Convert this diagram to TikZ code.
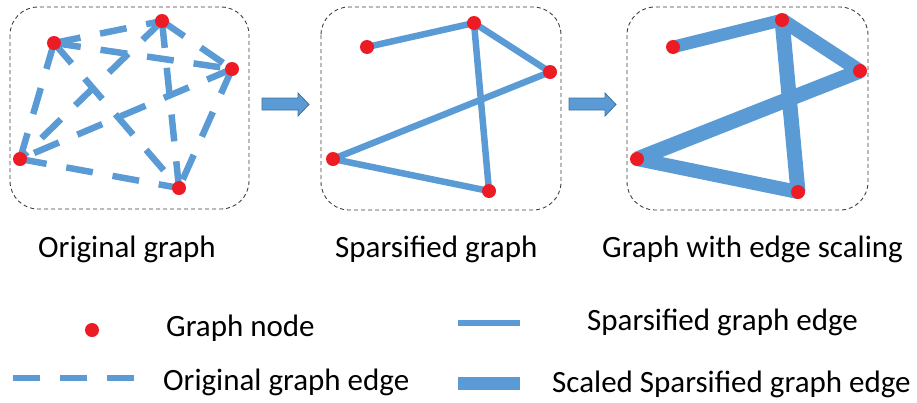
\documentclass[tikz,border=0pt]{standalone}
\usepackage{fontspec}
\setmainfont{Carlito}
\usetikzlibrary{backgrounds}

\definecolor{edgeblue}{HTML}{5B9BD5}
\definecolor{arrowline}{HTML}{41719C}
\definecolor{nodered}{HTML}{ED1C24}
\definecolor{framegray}{HTML}{3F3F3F}

\tikzset{
  gnode/.style={circle, fill=nodered, inner sep=0pt, minimum size=14pt},
  origedge/.style={draw=edgeblue, line width=6.5pt, dash pattern=on 27pt off 20pt},
  sparseedge/.style={draw=edgeblue, line width=6.5pt},
  scaledge/.style={draw=edgeblue, line width=14pt},
  panelframe/.style={draw=framegray, line width=0.9pt, dash pattern=on 4pt off 3pt, rounded corners=28pt},
  blockarrow/.style={fill=edgeblue, draw=arrowline, line width=0.8pt},
  caption/.style={font=\fontsize{31}{37}\selectfont, anchor=base west, inner sep=0pt},
}

\begin{document}
\begin{tikzpicture}[x=1pt, y=-1pt]
  \useasboundingbox (0,0) rectangle (917,402);

  % panel frames
  \draw[panelframe] (10,7) rectangle (249,209);
  \draw[panelframe] (321,7) rectangle (561,210);
  \draw[panelframe] (627,7) rectangle (868,210);

  % graph nodes: original graph
  \node[gnode] (a1) at (54,43) {};
  \node[gnode] (a2) at (162,21) {};
  \node[gnode] (a3) at (232,69) {};
  \node[gnode] (a4) at (20,159) {};
  \node[gnode] (a5) at (179,188) {};

  % graph nodes: sparsified graph
  \node[gnode] (b1) at (367,47) {};
  \node[gnode] (b2) at (474,23) {};
  \node[gnode] (b3) at (550,72) {};
  \node[gnode] (b4) at (333,159) {};
  \node[gnode] (b5) at (489,191) {};

  % graph nodes: scaled graph
  \node[gnode] (c1) at (673,47) {};
  \node[gnode] (c2) at (782,20) {};
  \node[gnode] (c3) at (860,71) {};
  \node[gnode] (c4) at (637,159) {};
  \node[gnode] (c5) at (798,192) {};

  \begin{pgfonlayer}{background}
    % complete graph on five nodes
    \draw[origedge] (a1.center) -- (a2.center);
    \draw[origedge] (a1.center) -- (a3.center);
    \draw[origedge] (a1.center) -- (a4.center);
    \draw[origedge] (a1.center) -- (a5.center);
    \draw[origedge] (a2.center) -- (a3.center);
    \draw[origedge] (a2.center) -- (a4.center);
    \draw[origedge] (a2.center) -- (a5.center);
    \draw[origedge] (a3.center) -- (a4.center);
    \draw[origedge] (a3.center) -- (a5.center);
    \draw[origedge] (a4.center) -- (a5.center);

    % sparsified edges
    \draw[sparseedge] (b1.center) -- (b2.center);
    \draw[sparseedge] (b2.center) -- (b3.center);
    \draw[sparseedge] (b2.center) -- (b5.center);
    \draw[sparseedge] (b3.center) -- (b4.center);
    \draw[sparseedge] (b4.center) -- (b5.center);

    % scaled edges
    \draw[scaledge, line width=12.5pt] (c1.center) -- (c2.center);
    \draw[scaledge] (c2.center) -- (c3.center);
    \draw[scaledge, line width=15pt] (c2.center) -- (c5.center);
    \draw[scaledge, line width=15pt] (c3.center) -- (c4.center);
    \draw[scaledge] (c4.center) -- (c5.center);
  \end{pgfonlayer}

  % block arrows between the panels
  \draw[blockarrow] (262,98) -- (298,98) -- (298,93) -- (309,104.5)
    -- (298,116) -- (298,110) -- (262,110) -- cycle;
  \draw[blockarrow] (569,98) -- (605,98) -- (605,93) -- (616,104.5)
    -- (605,116) -- (605,110) -- (569,110) -- cycle;

  % panel captions
  \node[caption] (t1) at (38,257) {Original graph};
  \node[caption] (t2) at (335,257) {Sparsified graph};
  \node[caption] (t3) at (602,257) {Graph with edge scaling};

  % legend
  \node[gnode] (lnode) at (92,330) {};
  \node[caption] (lnodetxt) at (166,336) {Graph node};

  \coordinate (ld1) at (13,378);
  \coordinate (ld2) at (134,378);
  \draw[origedge] (ld1) -- (ld2);
  \node[caption] (ldtxt) at (163,390) {Original graph edge};

  \coordinate (ls1) at (458,323);
  \coordinate (ls2) at (520,323);
  \draw[sparseedge, line width=6pt] (ls1) -- (ls2);
  \node[caption] (lstxt) at (587,330) {Sparsified graph edge};

  \coordinate (lc1) at (458,383);
  \coordinate (lc2) at (520,383);
  \draw[scaledge, line width=13pt] (lc1) -- (lc2);
  \node[caption] (lctxt) at (552,392) {Scaled Sparsified graph edge};
\end{tikzpicture}
\end{document}
